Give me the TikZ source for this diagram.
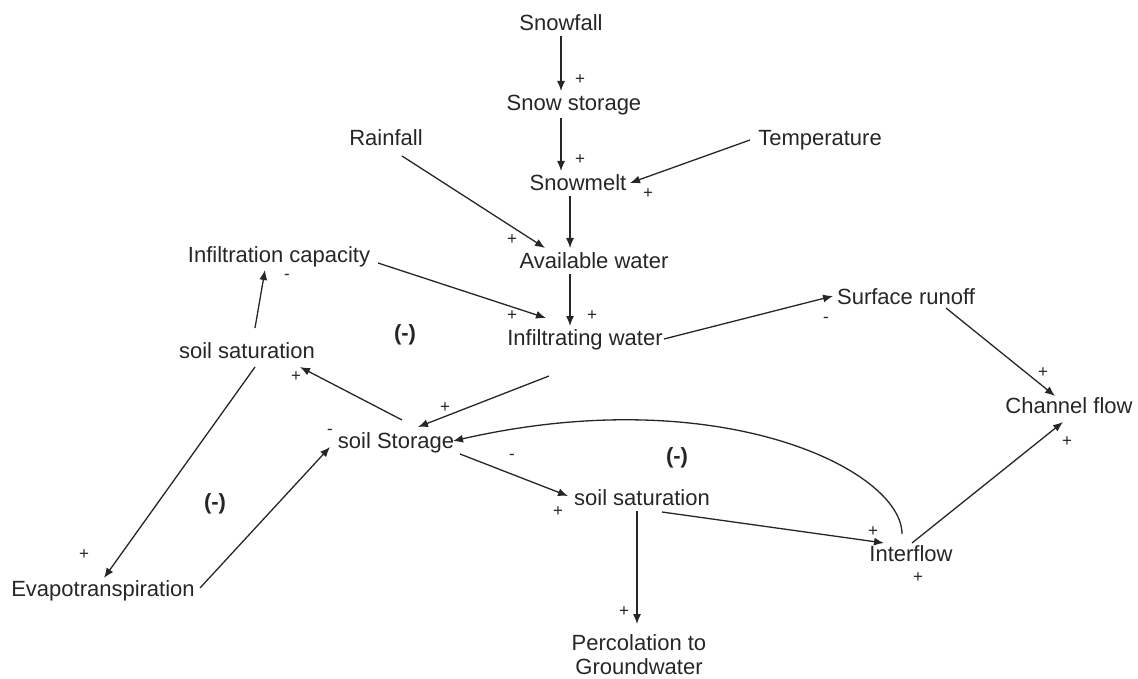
\documentclass[tikz,border=0pt]{standalone}
\usepackage{fontspec}
\setmainfont{Liberation Sans}
\usetikzlibrary{arrows.meta,calc}
\begin{document}
\begin{tikzpicture}[x=1pt,y=-1pt,
  lbl/.style={inner sep=0pt,text height=16pt,text depth=4.5pt,font=\fontsize{22}{26}\selectfont,text=black!85},
  sgn/.style={inner sep=0pt,font=\fontsize{17}{17}\selectfont,text=black!85},
  loopl/.style={inner sep=0pt,font=\fontsize{22}{26}\selectfont\bfseries,text=black!85},
  arr/.style={line width=1.3pt,draw=black!85,-{Latex[length=10pt,width=8pt]}}]
\useasboundingbox (0,0) rectangle (1138,679);
% nodes
\node[lbl] (snowfall) at (561,25) {Snowfall};
\node[lbl] (snowstor) at (574,105) {Snow storage};
\node[lbl] (rain) at (386,140) {Rainfall};
\node[lbl] (temp) at (820,140) {Temperature};
\node[lbl] (melt) at (578,185) {Snowmelt};
\node[lbl] (avail) at (594,263) {Available water};
\node[lbl] (infcap) at (279,257) {Infiltration capacity};
\node[lbl] (infw) at (585,340) {Infiltrating water};
\node[lbl] (surf) at (906,299) {Surface runoff};
\node[lbl] (satL) at (247,353) {soil saturation};
\node[lbl] (chan) at (1069,408) {Channel flow};
\node[lbl] (stor) at (396,443) {soil Storage};
\node[lbl] (satM) at (642,500) {soil saturation};
\node[lbl] (inter) at (911,556) {Interflow};
\node[lbl] (evap) at (103,591) {Evapotranspiration};
\node[lbl,align=center,text height=,text depth=,font=\fontsize{22}{24}\selectfont] (perc) at (639,655) {Percolation to\\Groundwater};
% loop labels
\node[loopl] (l1) at (405,335) {(-)};
\node[loopl] (l2) at (677,458) {(-)};
\node[loopl] (l3) at (215,504) {(-)};
% connectors
\draw[arr] ($(snowfall)+(0,11)$) -- ($(snowstor)+(-13,-14)$);
\draw[arr] ($(snowstor)+(-13,13)$) -- ($(melt)+(-17,-14)$);
\draw[arr] ($(temp)+(-70,0)$) -- ($(melt)+(52,-2)$);
\draw[arr] ($(rain)+(16,16)$) -- ($(avail)+(-49,-15)$);
\draw[arr] ($(melt)+(-8,11)$) -- ($(avail)+(-24,-15)$);
\draw[arr] ($(avail)+(-24,11)$) -- ($(infw)+(-15,-14)$);
\draw[arr] ($(infcap)+(99,6)$) -- ($(infw)+(-39,-22)$);
\draw[arr] ($(infw)+(79,-1)$) -- ($(surf)+(-73,-3)$);
\draw[arr] ($(surf)+(40,9)$) -- ($(chan)+(-14,-12)$);
\draw[arr] ($(infw)+(-36,36)$) -- ($(stor)+(22,-16)$);
\draw[arr] ($(stor)+(6,-23)$) -- ($(satL)+(53,14)$);
\draw[arr] ($(satL)+(8,-25)$) -- ($(infcap)+(-14,13)$);
\draw[arr] ($(satL)+(8,14)$) -- ($(evap)+(1,-13)$);
\draw[arr] ($(evap)+(97,-3)$) -- ($(stor)+(-66,4)$);
\draw[arr] ($(stor)+(64,11)$) -- ($(satM)+(-74,-4)$);
\draw[arr] ($(satM)+(-5,11)$) -- ($(perc)+(-2,-31)$);
\draw[arr] ($(satM)+(20,12)$) -- ($(inter)+(-27,-13)$);
\draw[arr] ($(inter)+(-9,-22)$) .. controls (902,470) and (720,380) .. ($(stor)+(57,-2)$);
\draw[arr] ($(inter)+(1,-13)$) -- ($(chan)+(-6,14)$);
% polarity signs
\node[sgn] (s1) at (580,80) {+};
\node[sgn] (s2) at (580,160) {+};
\node[sgn] (s3) at (648,194) {+};
\node[sgn] (s4) at (512,240) {+};
\node[sgn] (s5) at (287,277) {-};
\node[sgn] (s6) at (512,316) {+};
\node[sgn] (s7) at (592,316) {+};
\node[sgn] (s8) at (826,320) {-};
\node[sgn] (s9) at (296,377) {+};
\node[sgn] (s10) at (1043,373) {+};
\node[sgn] (s11) at (445,408) {+};
\node[sgn] (s12) at (330,432) {-};
\node[sgn] (s13) at (512,457) {-};
\node[sgn] (s14) at (1067,442) {+};
\node[sgn] (s15) at (558,512) {+};
\node[sgn] (s16) at (873,532) {+};
\node[sgn] (s17) at (918,578) {+};
\node[sgn] (s18) at (84,555) {+};
\node[sgn] (s19) at (624,612) {+};
\end{tikzpicture}
\end{document}
